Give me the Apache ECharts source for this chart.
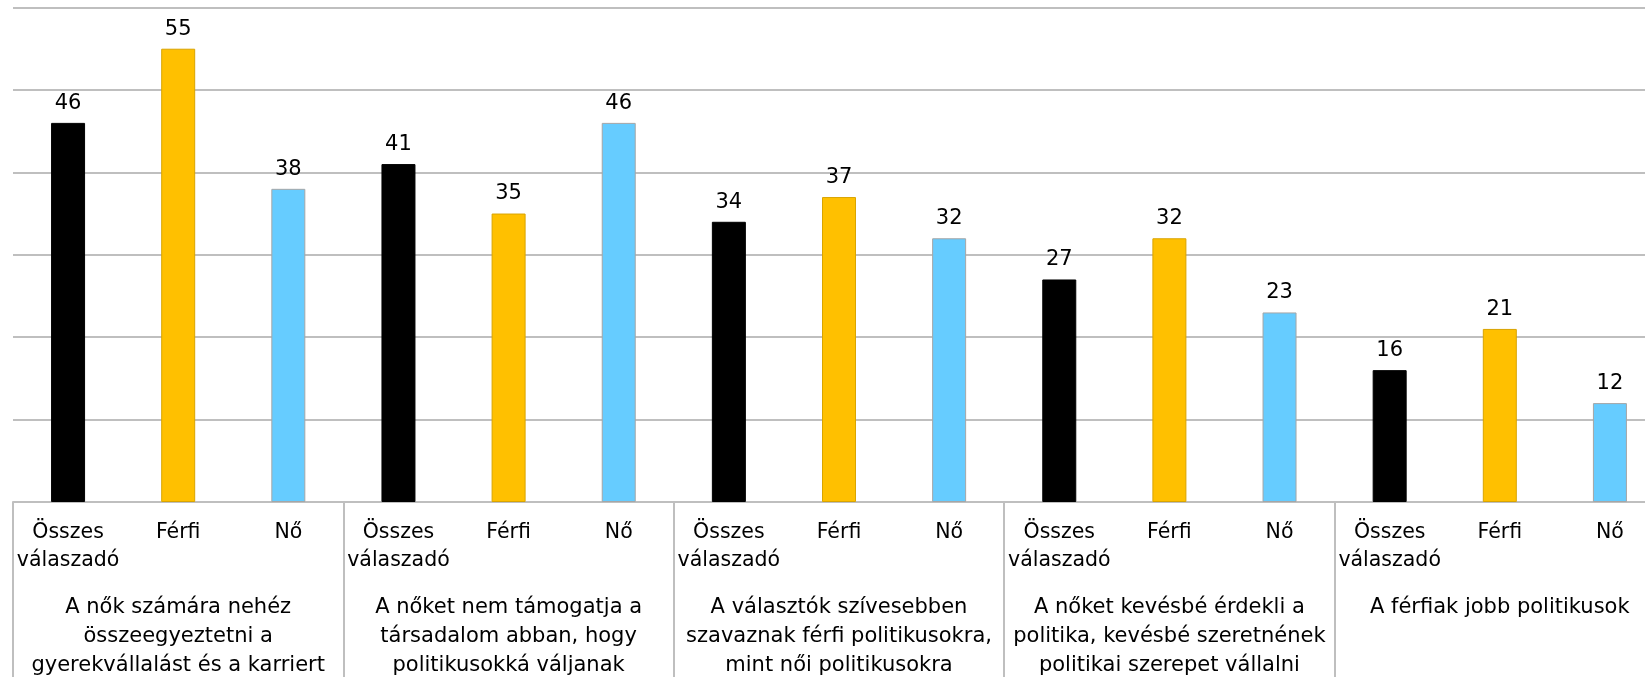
<!DOCTYPE html>
<html>
<head>
<meta charset="utf-8">
<script src="https://cdn.jsdelivr.net/npm/echarts@6/dist/echarts.min.js"></script>
<style>
  html, body { margin: 0; padding: 0; background: #fff; }
  #main { width: 1645px; height: 677px; }
</style>
</head>
<body>
<div id="main"></div>
<script>
// csoportok (kérdések) és alcsoportok
var groups = [
  "A nők számára nehéz\nösszeegyeztetni a\ngyerekvállalást és a karriert",
  "A nőket nem támogatja a\ntársadalom abban, hogy\npolitikusokká váljanak",
  "A választók szívesebben\nszavaznak férfi politikusokra,\nmint női politikusokra",
  "A nőket kevésbé érdekli a\npolitika, kevésbé szeretnének\npolitikai szerepet vállalni",
  "A férfiak jobb politikusok"
];
var subLabels = ["Összes\nválaszadó", "Férfi", "Nő"];

// értékek (%)
var osszes = [46, 41, 34, 27, 16];
var ferfi = [55, 35, 37, 32, 21];
var no = [38, 46, 32, 23, 12];

var yTicks = [0, 10, 20, 30, 40, 50, 60];

var categories = [];
var osszesData = [], ferfiData = [], noData = [];
for (var i = 0; i < groups.length; i++) {
  categories.push(subLabels[0], subLabels[1], subLabels[2]);
  osszesData.push(osszes[i], "-", "-");
  ferfiData.push("-", ferfi[i], "-");
  noData.push("-", "-", no[i]);
}

var font = "DejaVu Sans";
var gray = "#bfbfbf";

function barSeries(name, data, color, border) {
  return {
    name: name,
    type: "bar",
    stack: "all",
    barWidth: 34,
    data: data,
    itemStyle: { color: color, borderColor: border, borderWidth: 1 },
    label: {
      show: true,
      position: "top",
      distance: 9,
      color: "#000",
      fontFamily: font,
      fontSize: 21
    }
  };
}

var myChart = echarts.init(document.getElementById("main"));

var option = {
  animation: false,
  // a diagram jobb széle kilóg a képből
  grid: {
    left: 13,
    top: 7.5,
    width: 1652,
    height: 494.5,
    containLabel: false,
    outerBoundsMode: "none"
  },
  xAxis: [
    {
      type: "category",
      data: categories,
      position: "bottom",
      axisLine: { show: true, lineStyle: { color: gray, width: 2 } },
      axisTick: { show: false },
      axisLabel: {
        interval: 0,
        margin: 17,
        color: "#000",
        fontFamily: font,
        fontSize: 20.5,
        lineHeight: 28
      }
    },
    {
      type: "category",
      data: groups,
      position: "bottom",
      axisLine: { show: false },
      axisTick: { show: true, length: 180, lineStyle: { color: gray, width: 2 } },
      axisLabel: {
        interval: 0,
        margin: 91,
        color: "#000",
        fontFamily: font,
        fontSize: 21,
        lineHeight: 29
      }
    }
  ],
  yAxis: {
    type: "value",
    min: yTicks[0],
    max: yTicks[yTicks.length - 1],
    interval: 10,
    axisLabel: { show: false },
    axisLine: { show: false },
    axisTick: { show: false },
    splitLine: { lineStyle: { color: gray, width: 2 } }
  },
  series: [
    barSeries("Összes válaszadó", osszesData, "#000000", "#000000"),
    barSeries("Férfi", ferfiData, "#FFC000", "#d9a400"),
    barSeries("Nő", noData, "#66CCFF", "#a6a6a6")
  ]
};

myChart.setOption(option);
</script>
</body>
</html>
